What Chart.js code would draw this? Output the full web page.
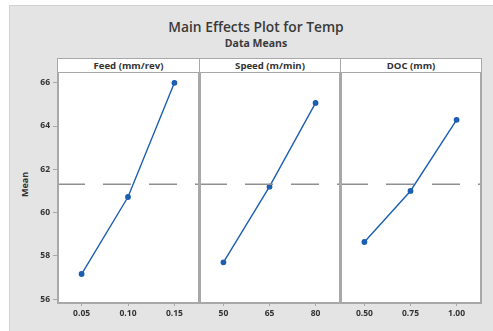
<!DOCTYPE html>
<html>
<head>
<meta charset="utf-8">
<script src="https://cdn.jsdelivr.net/npm/chart.js@4.4.1/dist/chart.umd.min.js"></script>
<style>
  html, body { margin: 0; padding: 0; background: #fff; }
  body { width: 493px; height: 331px; position: relative; overflow: hidden; font-family: "Open Sans", sans-serif; }
  #frame { position: absolute; left: 9px; top: 5px; width: 490px; height: 330px; background: #e4e4e4; border: 1px solid #d2d2d2; box-sizing: border-box; }
  .title { position: absolute; left: 0; width: 512px; text-align: center; color: #3a3a3a; }
  #t1 { top: 17px; font-size: 13.8px; font-weight: 600; }
  #t2 { top: 36px; font-size: 10.5px; font-weight: 700; }
  .head { position: absolute; top: 58px; height: 15px; background: #fff; border: 1px solid #a8a8a8; box-sizing: border-box;
          font-size: 9.6px; font-weight: 700; color: #333; text-align: center; line-height: 14px; }
  #ylab { position: absolute; left: 12px; top: 178px; transform: rotate(-90deg); font-size: 9px; font-weight: 700; color: #333; }
  canvas { position: absolute; }
</style>
</head>
<body>
<div id="frame"></div>
<div class="title" id="t1">Main Effects Plot for Temp</div>
<div class="title" id="t2">Data Means</div>
<div id="ylab">Mean</div>
<div id="heads"></div>
<canvas id="c0"></canvas>
<canvas id="c1"></canvas>
<canvas id="c2"></canvas>
<script>
"use strict";

// Données
const factors     = ["Feed (mm/rev)", "Speed (m/min)", "DOC (mm)"];
const feedLevels  = ["0.05", "0.10", "0.15"];
const speedLevels = ["50", "65", "80"];
const docLevels   = ["0.50", "0.75", "1.00"];
const feedMeans   = [57.16, 60.72, 66.0];
const speedMeans  = [57.7, 61.2, 65.07];
const docMeans    = [58.64, 61.0, 64.29];
const grandMean   = 61.31;
const yTicks      = [56, 58, 60, 62, 64, 66];

const LINE  = "#1c5fb2";
const AXIS  = "#a8a8a8";
const TEXT  = "#333333";

// Géométrie des panneaux
const PANEL_TOP = 72, PANEL_BOTTOM = 303;
const panelLeft = [57, 199, 340];
const panelW    = [142, 141, 141];
const Y_AXIS_W  = 37;
const X_AXIS_H  = 28;

// Bandeaux titres
const heads = document.getElementById("heads");
factors.forEach((f, i) => {
  const d = document.createElement("div");
  d.className = "head";
  d.textContent = f;
  d.style.left = (panelLeft[i]) + "px";
  d.style.width = (panelW[i] + 1) + "px";
  heads.appendChild(d);
});

const frameBox = {
  id: "frameBox",
  beforeDraw(chart) {
    const { ctx, chartArea: a } = chart;
    ctx.save();
    ctx.fillStyle = "#ffffff";
    ctx.fillRect(a.left, a.top, a.right - a.left, a.bottom - a.top);
    ctx.restore();
  },
  afterDraw(chart) {
    const { ctx, chartArea: a } = chart;
    ctx.save();
    ctx.strokeStyle = AXIS;
    ctx.lineWidth = 2;
    ctx.strokeRect(a.left + 1, a.top, a.right - a.left - 1, a.bottom - a.top);
    ctx.restore();
  },
};

function noPad(s) {
  s.paddingLeft = 0; s.paddingRight = 0; s.paddingTop = 0; s.paddingBottom = 0;
}

function makePanel(idx, levels, means, showY) {
  const cv = document.getElementById("c" + idx);
  const left = showY ? panelLeft[idx] - Y_AXIS_W : panelLeft[idx];
  const w = panelW[idx] + (showY ? Y_AXIS_W : 0) + 1;
  const h = PANEL_BOTTOM - PANEL_TOP + X_AXIS_H;
  cv.style.left = left + "px";
  cv.style.top = PANEL_TOP + "px";
  cv.style.width = w + "px";
  cv.style.height = h + "px";
  cv.width = w; cv.height = h;

  const xMin = -0.53, xMax = 2.53;

  return new Chart(cv.getContext("2d"), {
    type: "line",
    data: {
      datasets: [
        {
          data: [{ x: xMin, y: grandMean }, { x: xMax, y: grandMean }],
          borderColor: "#909090",
          borderWidth: 1.3,
          borderDash: [28, 18],
          pointRadius: 0,
          fill: false,
        },
        {
          data: means.map((m, i) => ({ x: i, y: m })),
          borderColor: LINE,
          backgroundColor: LINE,
          borderWidth: 1.4,
          pointRadius: 2.2,
          pointStyle: "circle",
          fill: false,
          tension: 0,
        },
      ],
    },
    options: {
      responsive: false,
      animation: false,
      events: [],
      layout: { autoPadding: false, padding: { top: 0, right: 1, left: 0, bottom: 0 } },
      plugins: { legend: { display: false }, tooltip: { enabled: false } },
      scales: {
        x: {
          type: "linear",
          min: xMin, max: xMax,
          afterBuildTicks: s => { s.ticks = levels.map((_, i) => ({ value: i })); },
          afterFit: s => { s.height = X_AXIS_H; noPad(s); },
          grid: { display: true, drawOnChartArea: false, drawTicks: true, tickLength: 3, color: AXIS },
          border: { display: false },
          ticks: {
            callback: v => levels[v],
            color: TEXT,
            padding: 2,
            maxRotation: 0,
            font: { family: "Open Sans", size: 8.5, weight: "700" },
          },
        },
        y: {
          display: showY,
          min: 55.82, max: 66.5,
          afterBuildTicks: s => { s.ticks = yTicks.map(v => ({ value: v })); },
          afterFit: s => { s.width = showY ? Y_AXIS_W : 0; noPad(s); },
          grid: { display: true, drawOnChartArea: false, drawTicks: true, tickLength: 4, color: AXIS },
          border: { display: false },
          ticks: {
            color: TEXT,
            padding: 3,
            font: { family: "Open Sans", size: 8.5, weight: "700" },
          },
        },
      },
    },
    plugins: [frameBox],
  });
}

makePanel(0, feedLevels, feedMeans, true);
makePanel(1, speedLevels, speedMeans, false);
makePanel(2, docLevels, docMeans, false);
</script>
</body>
</html>
